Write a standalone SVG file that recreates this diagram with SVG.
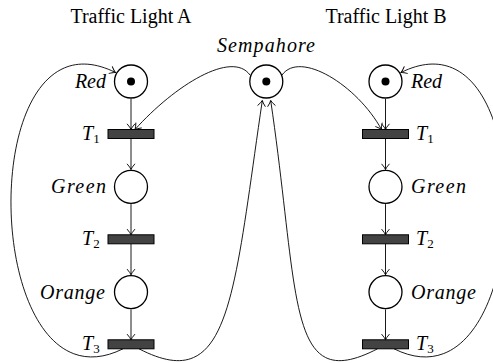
<svg xmlns="http://www.w3.org/2000/svg" width="493" height="363" viewBox="0 0 493 363">
  <defs>
    <marker id="arr" viewBox="-7 -5 8 10" markerWidth="8" markerHeight="10" refX="0" refY="0" orient="auto" markerUnits="userSpaceOnUse">
      <path d="M-5.4,-3.7 Q-1.9,-0.7 0,0 Q-1.9,0.7 -5.4,3.7" fill="none" stroke="#000" stroke-width="0.9" stroke-linecap="round"/>
    </marker>
    <!-- shared node shapes -->
    <circle id="place" r="16.5" fill="#fff" stroke="#000" stroke-width="1.3"/>
    <rect id="trans" x="-23" y="-4.5" width="46" height="9" fill="#434343" stroke="#000" stroke-width="1"/>
  </defs>

  <rect width="493" height="363" fill="#fff"/>

  <text font-family="Liberation Serif" font-size="20" x="131" y="22.5" text-anchor="middle">Traffic Light A</text>
  <text font-family="Liberation Serif" font-size="20" x="386" y="22.5" text-anchor="middle">Traffic Light B</text>

  <!-- connectors -->
  <g id="arcs" fill="none" stroke="#000" stroke-width="0.9" marker-end="url(#arr)">
    <!-- column A -->
    <path d="M131,98.8 V129.5"/>
    <path d="M131,138.5 V169.5"/>
    <path d="M131,204.1 V234.8"/>
    <path d="M131,243.8 V274.8"/>
    <path d="M131,309.4 V339.8"/>
    <!-- column B -->
    <path d="M385.5,98.8 V129.5"/>
    <path d="M385.5,138.5 V169.5"/>
    <path d="M385.5,204.1 V234.8"/>
    <path d="M385.5,243.8 V274.8"/>
    <path d="M385.5,309.4 V339.8"/>
    <!-- T3 A back to Red A -->
    <path d="M123,348.8 C-20,420 -30,0 115.5,72.5"/>
    <!-- T3 B back to Red B -->
    <path d="M394,348.8 C537,420 547,0 401,72.5"/>
    <!-- semaphore to T1 A / T1 B -->
    <path d="M250,75 C232,50 175,85 135,129.5"/>
    <path d="M282,75 C300,50 357,85 381.5,129.5"/>
    <!-- T3 A / T3 B back to semaphore -->
    <path d="M139,348.8 C230,396 233,300 262.3,100.5"/>
    <path d="M377.5,348.8 C286.5,396 300,300 270.7,100.5"/>
  </g>

  <g id="nodes" font-style="italic" font-size="20">
    <!-- semaphore -->
    <g id="semaphore">
      <use href="#place" x="266.3" y="81.5"/>
      <circle cx="266.3" cy="81.5" r="4"/>
      <text font-family="Liberation Serif" x="266" y="51.5" text-anchor="middle" textLength="98">Sempahore</text>
    </g>

    <!-- traffic light A -->
    <g id="a-red">
      <use href="#place" x="131" y="81.5"/>
      <circle cx="131" cy="81.5" r="4"/>
      <text font-family="Liberation Serif" x="106" y="88" text-anchor="end">Red</text>
    </g>
    <g id="a-t1">
      <use href="#trans" x="131" y="134"/>
      <text font-family="Liberation Serif" x="82" y="140">T<tspan font-size="13" font-style="normal" dy="3">1</tspan></text>
    </g>
    <g id="a-green">
      <use href="#place" x="131" y="186.8"/>
      <text font-family="Liberation Serif" x="106" y="193.3" text-anchor="end" textLength="55">Green</text>
    </g>
    <g id="a-t2">
      <use href="#trans" x="131" y="239.3"/>
      <text font-family="Liberation Serif" x="82" y="245.3">T<tspan font-size="13" font-style="normal" dy="3">2</tspan></text>
    </g>
    <g id="a-orange">
      <use href="#place" x="131" y="292.1"/>
      <text font-family="Liberation Serif" x="105" y="298.6" text-anchor="end" textLength="65">Orange</text>
    </g>
    <g id="a-t3">
      <use href="#trans" x="131" y="344.3"/>
      <text font-family="Liberation Serif" x="82" y="350.3">T<tspan font-size="13" font-style="normal" dy="3">3</tspan></text>
    </g>

    <!-- traffic light B -->
    <g id="b-red">
      <use href="#place" x="385.5" y="81.5"/>
      <circle cx="385.5" cy="81.5" r="4"/>
      <text font-family="Liberation Serif" x="411" y="88">Red</text>
    </g>
    <g id="b-t1">
      <use href="#trans" x="385.5" y="134"/>
      <text font-family="Liberation Serif" x="416" y="140">T<tspan font-size="13" font-style="normal" dy="3">1</tspan></text>
    </g>
    <g id="b-green">
      <use href="#place" x="385.5" y="186.8"/>
      <text font-family="Liberation Serif" x="411" y="193.3" textLength="55">Green</text>
    </g>
    <g id="b-t2">
      <use href="#trans" x="385.5" y="239.3"/>
      <text font-family="Liberation Serif" x="416" y="245.3">T<tspan font-size="13" font-style="normal" dy="3">2</tspan></text>
    </g>
    <g id="b-orange">
      <use href="#place" x="385.5" y="292.1"/>
      <text font-family="Liberation Serif" x="411" y="298.6" textLength="65">Orange</text>
    </g>
    <g id="b-t3">
      <use href="#trans" x="385.5" y="344.3"/>
      <text font-family="Liberation Serif" x="416" y="350.3">T<tspan font-size="13" font-style="normal" dy="3">3</tspan></text>
    </g>
  </g>
</svg>
